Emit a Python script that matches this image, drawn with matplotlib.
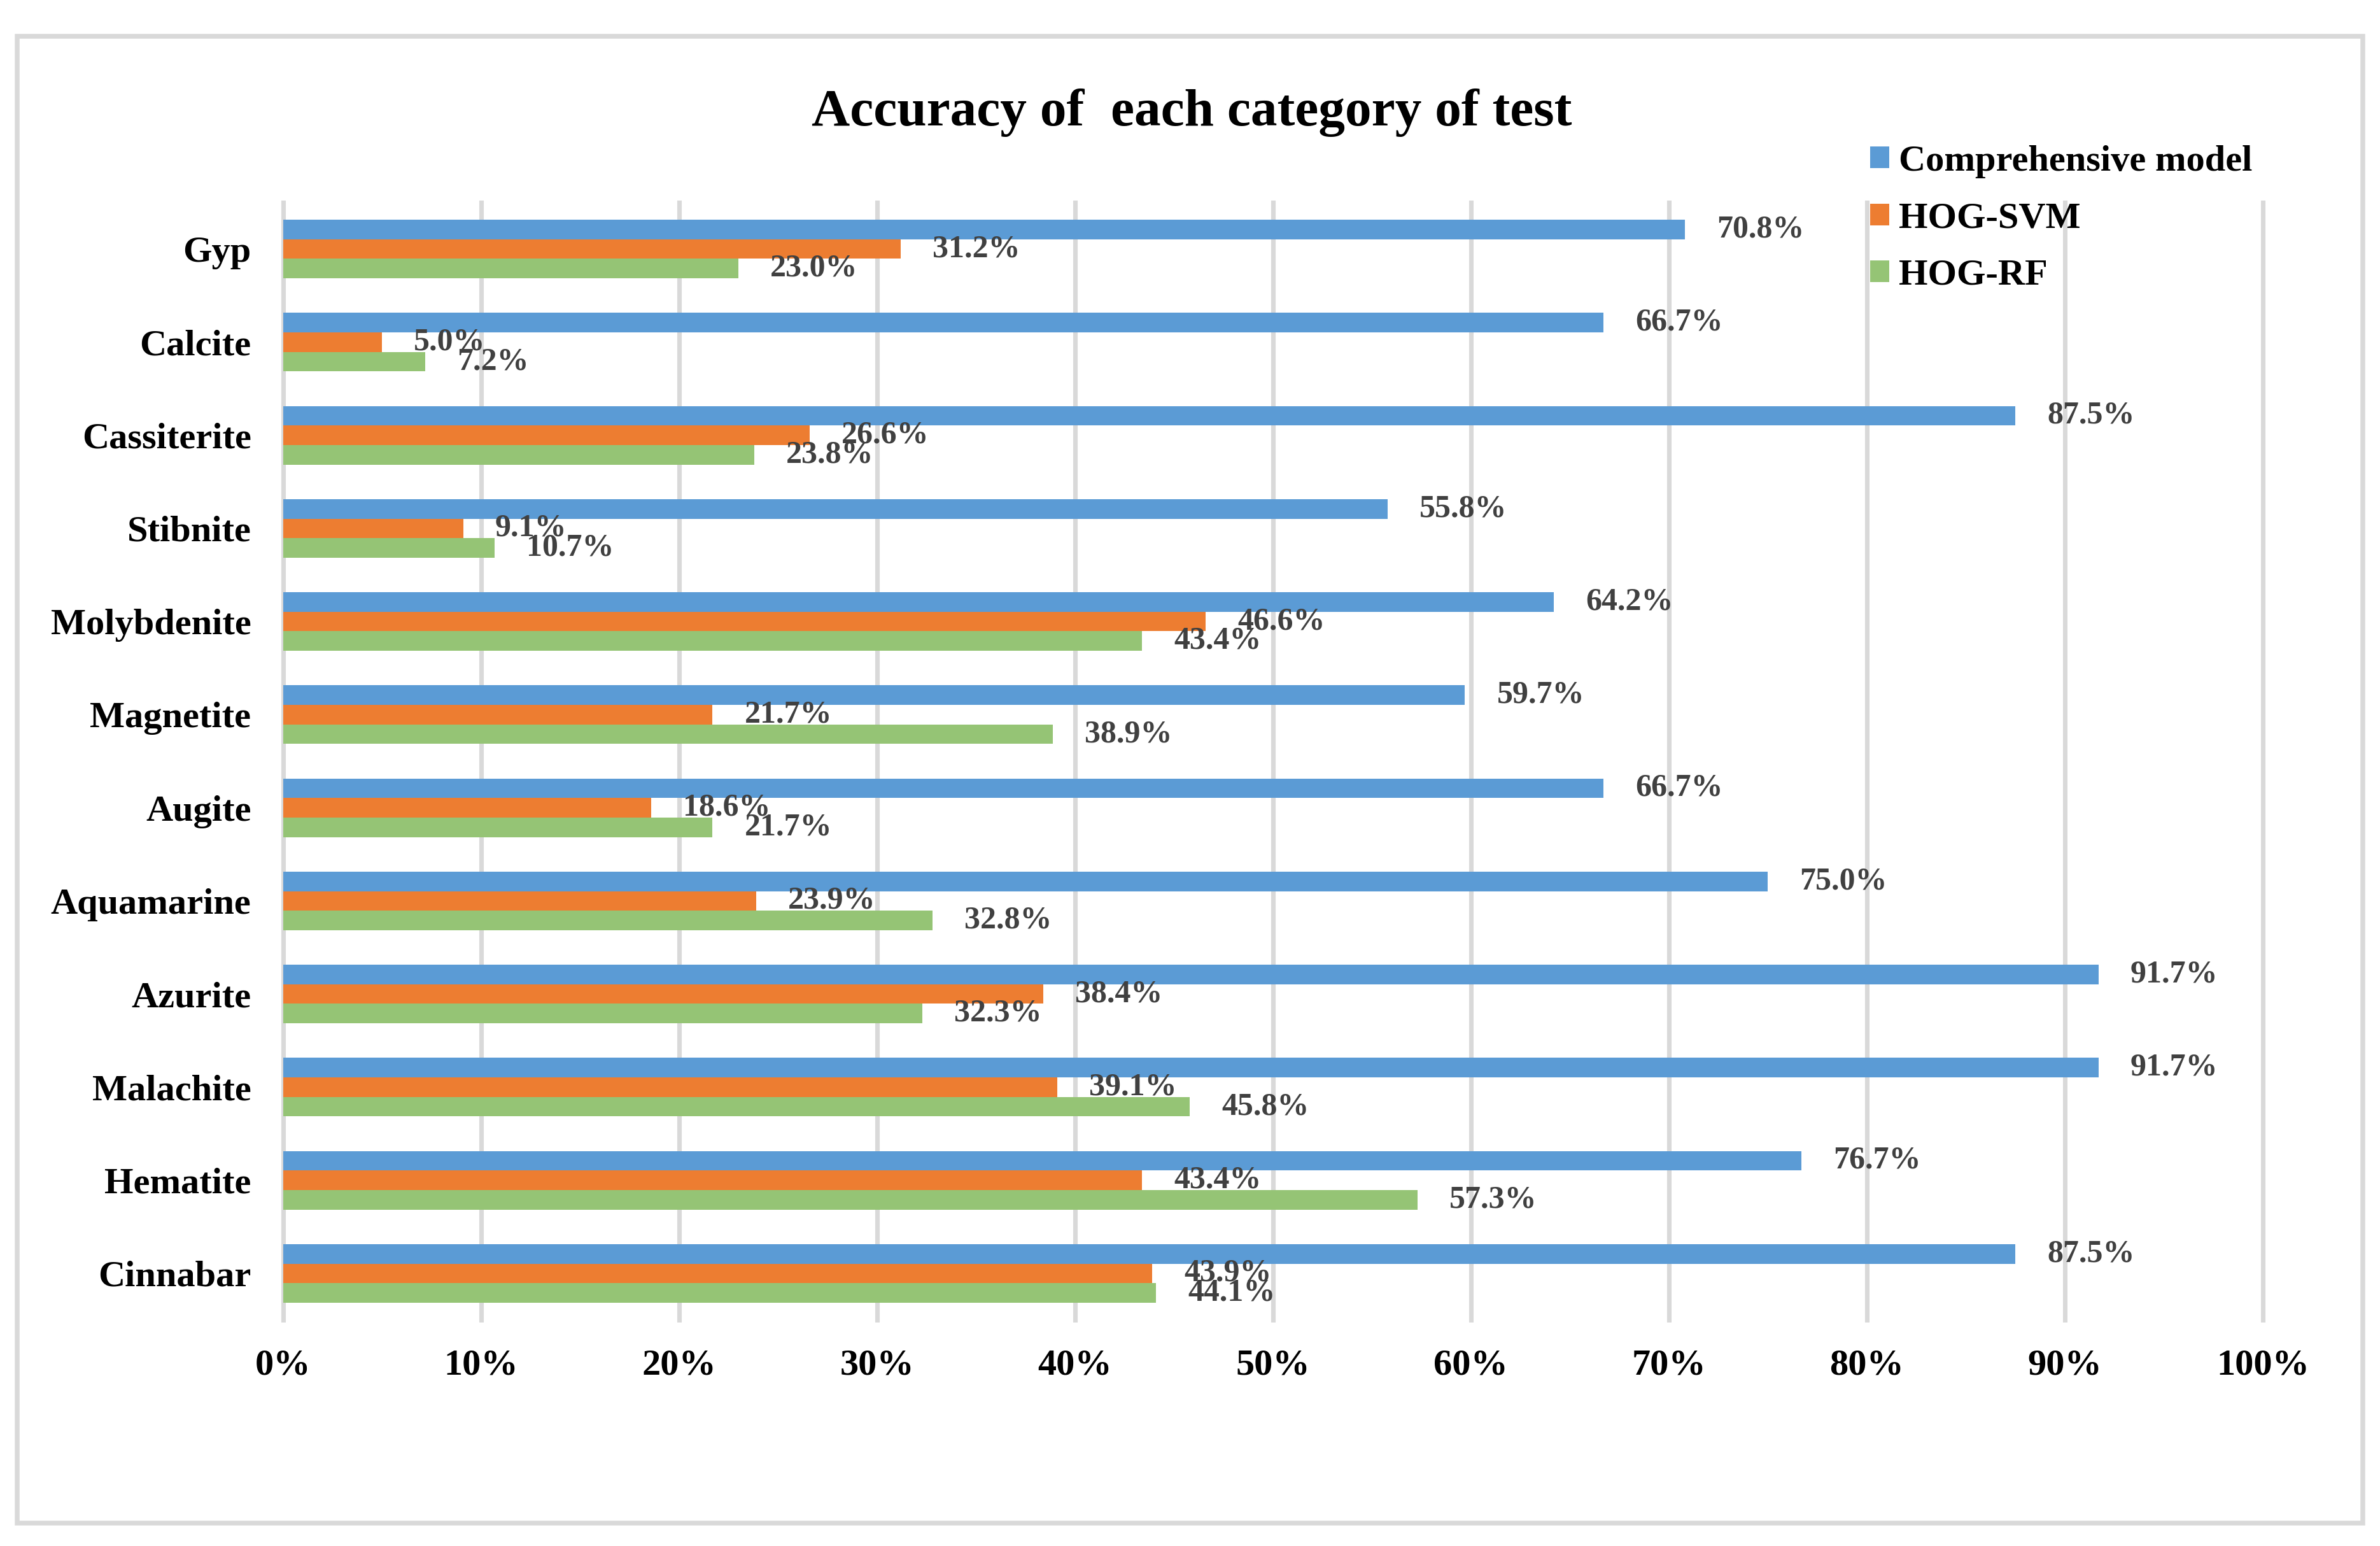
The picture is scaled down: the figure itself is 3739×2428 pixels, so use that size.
import matplotlib.pyplot as plt
import numpy as np
from matplotlib.patches import Rectangle

plt.rcParams['font.family'] = ['Liberation Serif', 'DejaVu Serif']
plt.rcParams['font.weight'] = 'bold'

# categories, bottom to top as they appear in the chart
minerals = ['Cinnabar', 'Hematite', 'Malachite', 'Azurite', 'Aquamarine', 'Augite',
            'Magnetite', 'Molybdenite', 'Stibnite', 'Cassiterite', 'Calcite', 'Gyp']
comprehensive = [87.5, 76.7, 91.7, 91.7, 75.0, 66.7, 59.7, 64.2, 55.8, 87.5, 66.7, 70.8]
hog_svm = [43.9, 43.4, 39.1, 38.4, 23.9, 18.6, 21.7, 46.6, 9.1, 26.6, 5.0, 31.2]
hog_rf = [44.1, 57.3, 45.8, 32.3, 32.8, 21.7, 38.9, 43.4, 10.7, 23.8, 7.2, 23.0]
x_ticks = list(range(0, 101, 10))

W, H, DPI = 3739, 2428, 300
fig = plt.figure(figsize=(W / DPI, H / DPI), dpi=DPI)

# chart border
fig.patches.append(Rectangle((27 / W, 1 - 2392 / H), (3712 - 27) / W, (2392 - 57) / H,
                             transform=fig.transFigure, fill=False,
                             edgecolor='#d9d9d9', lw=1.8))

ax = fig.add_axes([444.5 / W, 1 - 2073 / H, (3555 - 444.5) / W, (2073 - 318) / H])

y = np.arange(len(minerals))
h = 0.21
b1 = ax.barh(y + h, comprehensive, h, color='#5B9BD5', label='Comprehensive model', zorder=2)
b2 = ax.barh(y, hog_svm, h, color='#ED7D31', label='HOG-SVM', zorder=2)
b3 = ax.barh(y - h, hog_rf, h, color='#95C475', label='HOG-RF', zorder=2)

for bars, vals in [(b1, comprehensive), (b2, hog_svm), (b3, hog_rf)]:
    ax.bar_label(bars, labels=['{:.1f}%'.format(v) for v in vals], padding=12,
                 fontsize=12, color='#404040', fontweight='bold', zorder=5)

ax.set_xlim(0, 100)
ax.set_ylim(-0.5, len(minerals) - 0.5)
ax.set_xticks(x_ticks)
ax.set_xticklabels(['{}%'.format(t) for t in x_ticks], fontsize=14)
ax.set_yticks(y)
ax.set_yticklabels(minerals, fontsize=14)
ax.tick_params(axis='both', length=0)
ax.tick_params(axis='y', pad=12)
ax.tick_params(axis='x', pad=11)
ax.grid(axis='x', color='#d9d9d9', lw=1.7)
ax.set_axisbelow(True)
for gl in ax.get_xgridlines():
    gl.set_clip_on(False)
for s in ax.spines.values():
    s.set_visible(False)

fig.text(0.5007, 1 - 197 / H, 'Accuracy of  each category of test', ha='center',
         va='baseline', fontsize=20, fontweight='bold')

fig.legend(handles=[b1, b2, b3], loc='upper left', bbox_to_anchor=(2938 / W, 1 - 228 / H),
           frameon=False, fontsize=14, handlelength=0.52, handleheight=0.52,
           handletextpad=0.25, labelspacing=0.64, borderpad=0, borderaxespad=0)

plt.savefig('out.png', dpi=DPI)
